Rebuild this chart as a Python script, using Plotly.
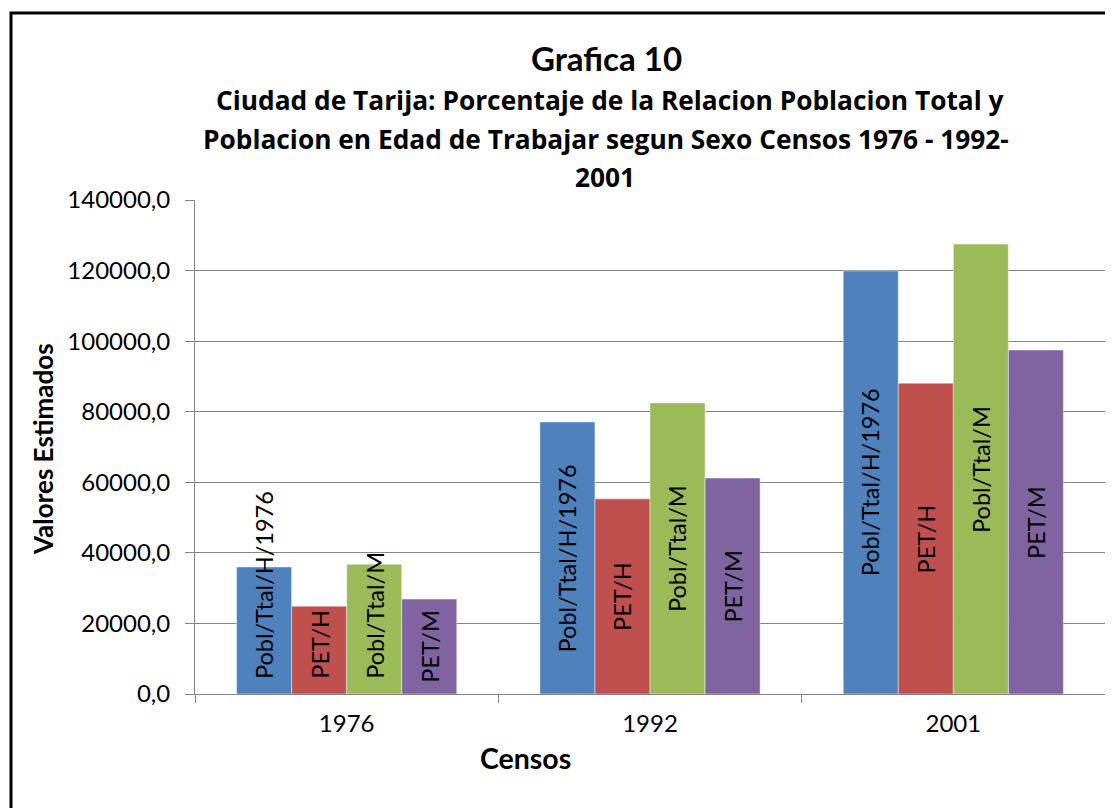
import plotly.graph_objects as go

# ---- data ----
censos = ["1976", "1992", "2001"]
series_names = ["Pobl/Ttal/H/1976", "PET/H", "Pobl/Ttal/M", "PET/M"]
pobl_total_h = [36000, 77100, 119900]
pet_h = [24900, 55300, 88100]
pobl_total_m = [36800, 82500, 127500]
pet_m = [26900, 61200, 97500]
series_values = [pobl_total_h, pet_h, pobl_total_m, pet_m]
colors = ["#4F81BD", "#C0504D", "#9BBB59", "#8064A2"]

y_ticks = [0, 20000, 40000, 60000, 80000, 100000, 120000, 140000]

title_main = "Grafica 10"
title_lines = [
    "Ciudad de Tarija: Porcentaje de la Relacion Poblacion Total y",
    "Poblacion en Edad de Trabajar segun Sexo Censos 1976 - 1992-",
    "2001",
]
x_title = "Censos"
y_title = "Valores Estimados"

# ---- layout geometry (page pixels, the page body adds an 8px margin) ----
OFF = 8
W, H = 1113 - OFF, 808 - OFF
PLOT_L, PLOT_R, PLOT_T, PLOT_B = 195, 1105, 200, 694   # page coords
ML = PLOT_L - OFF
MR = W - (PLOT_R - OFF)
MT = PLOT_T - OFF
MB = H - (PLOT_B - OFF)
plot_w = PLOT_R - PLOT_L
plot_h = PLOT_B - PLOT_T
y_max = 140000
bargap = 0.274
n_series = len(series_values)
bar_w = (1 - bargap) / n_series

FONT = "Lato, Carlito, Calibri, sans-serif"
SUB_FONT = "'Open Sans', Lato, sans-serif"
LABEL_SIZE = 23.5
CHAR_PX = 11.6      # approx rendered width per character for bar labels
LABEL_PAD = 13      # px between text box and baseline when label is clamped


def py(page_y):
    return (PLOT_B - page_y) / plot_h


def px_x(page_x):
    return (page_x - PLOT_L) / plot_w


fig = go.Figure()
for name, vals, col in zip(series_names, series_values, colors):
    fig.add_trace(go.Bar(
        x=censos, y=vals, name=name,
        marker=dict(color=col, line=dict(color="rgba(255,255,255,0.45)", width=1)),
        hoverinfo="x+y+name",
    ))

annotations = []
px_per_unit = plot_h / y_max
for i, (name, vals) in enumerate(zip(series_names, series_values)):
    for c, v in enumerate(vals):
        half_len = len(name) * CHAR_PX / 2
        xpos = c + (i - (n_series - 1) / 2) * bar_w
        if v / 2 * px_per_unit < half_len + 16:
            annotations.append(dict(
                x=xpos, y=0, xref="x", yref="y", text=name, showarrow=False,
                textangle=-90, yanchor="bottom", xanchor="center", yshift=LABEL_PAD,
                font=dict(family=FONT, size=LABEL_SIZE, color="#000000"),
            ))
        else:
            annotations.append(dict(
                x=xpos, y=v / 2, xref="x", yref="y", text=name, showarrow=False,
                textangle=-90, yanchor="middle", xanchor="center",
                font=dict(family=FONT, size=LABEL_SIZE, color="#000000"),
            ))

annotations.append(dict(x=px_x(606), y=py(58), xref="paper", yref="paper",
                        text="<b>" + title_main + "</b>", showarrow=False,
                        font=dict(family=FONT, size=33, color="#000000"),
                        xanchor="center", yanchor="middle"))
for line, xc, yc in zip(title_lines, [610, 606, 605], [100, 139, 177]):
    annotations.append(dict(x=px_x(xc), y=py(yc), xref="paper", yref="paper",
                            text="<b>" + line + "</b>", showarrow=False,
                            font=dict(family=SUB_FONT, size=26.3, color="#000000"),
                            xanchor="center", yanchor="middle"))

annotations.append(dict(x=px_x(525), y=py(758), xref="paper", yref="paper",
                        text="<b>" + x_title + "</b>", showarrow=False,
                        font=dict(family=FONT, size=28.5, color="#000000"),
                        xanchor="center", yanchor="middle"))
annotations.append(dict(x=px_x(43), y=py(449), xref="paper", yref="paper",
                        text="<b>" + y_title + "</b>", showarrow=False, textangle=-90,
                        font=dict(family=FONT, size=26, color="#000000"),
                        xanchor="center", yanchor="middle"))

shapes = [dict(type="rect", xref="paper", yref="paper",
               x0=px_x(11), x1=px_x(1125), y0=py(830), y1=py(13),
               line=dict(color="#000000", width=3), fillcolor="rgba(0,0,0,0)", layer="above")]

fig.update_layout(
    width=W, height=H,
    margin=dict(l=ML, r=MR, t=MT, b=MB, autoexpand=False),
    paper_bgcolor="white", plot_bgcolor="white",
    separators=",.",
    barmode="group", bargap=bargap, bargroupgap=0,
    showlegend=False,
    font=dict(family=FONT, color="#000000"),
    annotations=annotations,
    shapes=shapes,
    xaxis=dict(
        type="category", showgrid=False, showline=True, linecolor="#868686", linewidth=1,
        ticks="outside", tickson="boundaries", ticklen=8, tickcolor="#868686",
        ticklabelstandoff=8,
        tickfont=dict(family=FONT, size=24, color="#000000"),
    ),
    yaxis=dict(
        range=[0, y_max], tickvals=y_ticks, tickformat=".1f",
        showgrid=True, gridcolor="#868686", gridwidth=1,
        showline=True, linecolor="#868686", linewidth=1,
        ticks="outside", ticklen=9, tickcolor="#868686",
        ticklabelstandoff=10,
        tickfont=dict(family=FONT, size=24, color="#000000"),
        zeroline=False,
    ),
)

fig.write_html("out.html")
